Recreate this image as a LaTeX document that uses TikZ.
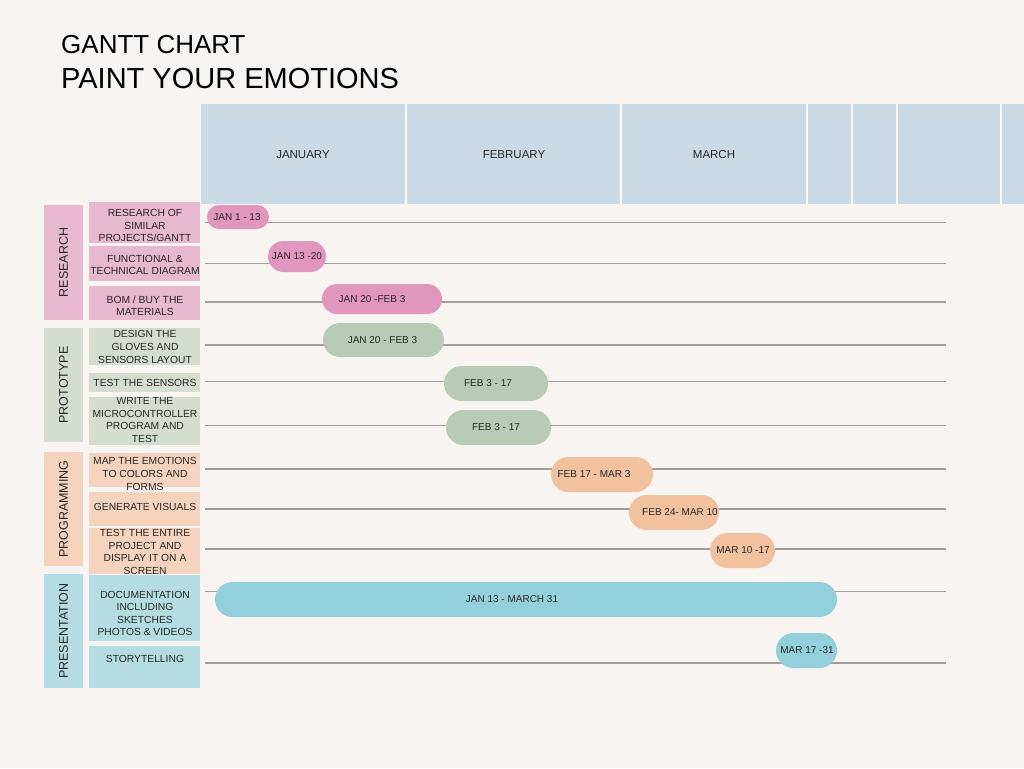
\documentclass[tikz,border=0pt]{standalone}
\usepackage{fontspec}
\setmainfont{Liberation Sans}
\usetikzlibrary{shapes.misc}
\definecolor{paper}{RGB}{247,244,241}
\definecolor{headblue}{RGB}{202,218,230}
\definecolor{ink}{RGB}{38,38,38}
\definecolor{rulegray}{RGB}{160,158,156}
\definecolor{pinkbox}{RGB}{232,184,206}
\definecolor{pinkbar}{RGB}{225,150,188}
\definecolor{greenbox}{RGB}{212,221,208}
\definecolor{greenbar}{RGB}{183,203,181}
\definecolor{peachbox}{RGB}{245,211,190}
\definecolor{peachbar}{RGB}{242,193,158}
\definecolor{bluebox}{RGB}{180,220,227}
\definecolor{bluebar}{RGB}{148,208,220}
\tikzset{
    gridline/.style={rulegray,line width=1.3pt},
    bartext/.style={font=\fontsize{10}{12}\selectfont,text=ink,inner sep=0pt},
    tasktext/.style={font=\fontsize{10.3}{12.6}\selectfont,text=ink,align=center,inner sep=0pt},
    grouptext/.style={font=\fontsize{12.5}{14}\selectfont,text=ink,rotate=90,inner sep=0pt},
    monthtext/.style={font=\fontsize{11.5}{13}\selectfont,text=ink,inner sep=0pt},
    titletext/.style={anchor=base west,text=black,inner sep=0pt}
}
% name, colour, line y, x1, x2, y1, y2, text x, text
\newcommand\ganttbar[9]{
    \draw[gridline] (205,#3) -- (946,#3);
    \node[rounded rectangle,fill=#2,minimum width={#5-#4},minimum height={#7-#6},inner sep=0pt] (#1) at ({(#4+#5)/2},{(#6+#7)/2}) {};
    \node[bartext] (#1t) at (#8,{(#6+#7)/2}) {#9};
}
% name, colour, y1, y2, text y, text
\newcommand\taskbox[6]{
    \fill[#2] (89,#3) rectangle (200,#4);
    \node[tasktext] (#1) at (145,#5) {#6};
}
% name, colour, y1, y2, text
\newcommand\groupbox[5]{
    \fill[#2] (44,#3) rectangle (83,#4);
    \node[grouptext] (#1) at (63.5,{(#3+#4)/2}) {#5};
}

\begin{document}
\begin{tikzpicture}[x=1pt,y=-1pt]
    \fill[paper] (0,0) rectangle (1024,768);
    \useasboundingbox (0,0) rectangle (1024,768);

    \node[titletext,font=\fontsize{26}{30}\selectfont] (title) at (61,53.5) {GANTT CHART};
    \node[titletext,font=\fontsize{29}{33}\selectfont] (subtitle) at (61,88.5) {PAINT YOUR EMOTIONS};

    % months
    \fill[headblue] (201,104) rectangle (1024,204);
    \draw[white,line width=1.5pt] (406,104) -- (406,204) (621,104) -- (621,204) (807,104) -- (807,204)
        (852,104) -- (852,204) (897,104) -- (897,204) (1001,104) -- (1001,204);
    \node[monthtext] (jan) at (303,155) {JANUARY};
    \node[monthtext] (feb) at (514,155) {FEBRUARY};
    \node[monthtext] (mar) at (714,155) {MARCH};

    % groups
    \groupbox{research}{pinkbox}{205}{320}{RESEARCH}
    \groupbox{prototype}{greenbox}{328}{442}{PROTOTYPE}
    \groupbox{programming}{peachbox}{452}{566}{PROGRAMMING}
    \groupbox{presentation}{bluebox}{574}{688}{PRESENTATION}

    % tasks
    \taskbox{similar}{pinkbox}{202}{243}{225.5}{RESEARCH OF\\SIMILAR\\PROJECTS/GANTT}
    \taskbox{diagram}{pinkbox}{246}{281}{265}{FUNCTIONAL \&\\TECHNICAL DIAGRAM}
    \taskbox{bom}{pinkbox}{286}{320}{306}{BOM / BUY THE\\MATERIALS}
    \taskbox{gloves}{greenbox}{328}{365}{347}{DESIGN THE\\GLOVES AND\\SENSORS LAYOUT}
    \taskbox{sensors}{greenbox}{373}{392}{383}{TEST THE SENSORS}
    \taskbox{program}{greenbox}{397}{445}{420}{WRITE THE\\MICROCONTROLLER\\PROGRAM AND\\TEST}
    \taskbox{emotions}{peachbox}{453}{487}{474}{MAP THE EMOTIONS\\TO COLORS AND\\FORMS}
    \taskbox{visuals}{peachbox}{492}{526}{507}{GENERATE VISUALS}
    \taskbox{entire}{peachbox}{528}{574}{552}{TEST THE ENTIRE\\PROJECT AND\\DISPLAY IT ON A\\SCREEN}
    \taskbox{docs}{bluebox}{575}{641}{613.5}{DOCUMENTATION\\INCLUDING\\SKETCHES\\PHOTOS \& VIDEOS}
    \taskbox{story}{bluebox}{646}{688}{659}{STORYTELLING}

    % bars
    \ganttbar{bsimilar}{pinkbar}{222.5}{207}{269}{205}{229}{237}{JAN 1 - 13}
    \ganttbar{bdiagram}{pinkbar}{263.5}{268}{326}{241}{272}{297}{JAN 13 -20}
    \ganttbar{bbom}{pinkbar}{302}{322}{442}{284}{314}{372}{JAN 20 -FEB 3}
    \ganttbar{bgloves}{greenbar}{345}{323}{444}{323}{357}{382.5}{JAN 20 - FEB 3}
    \ganttbar{bsensors}{greenbar}{381.5}{444}{548}{366}{401}{488}{FEB 3 - 17}
    \ganttbar{bprogram}{greenbar}{425.5}{446}{551}{410}{445}{496}{FEB 3 - 17}
    \ganttbar{bemotions}{peachbar}{469}{551}{653}{457}{492}{594}{FEB 17 - MAR 3}
    \ganttbar{bvisuals}{peachbar}{509}{629}{719}{495}{530}{680}{FEB 24- MAR 10}
    \ganttbar{bentire}{peachbar}{549}{710}{775}{533}{568}{743}{MAR 10 -17}
    \ganttbar{bdocs}{bluebar}{591.5}{215}{837}{582}{617}{512}{JAN 13 - MARCH 31}
    \ganttbar{bstory}{bluebar}{663}{776}{837}{633}{668}{807}{MAR 17 -31}
\end{tikzpicture}
\end{document}
